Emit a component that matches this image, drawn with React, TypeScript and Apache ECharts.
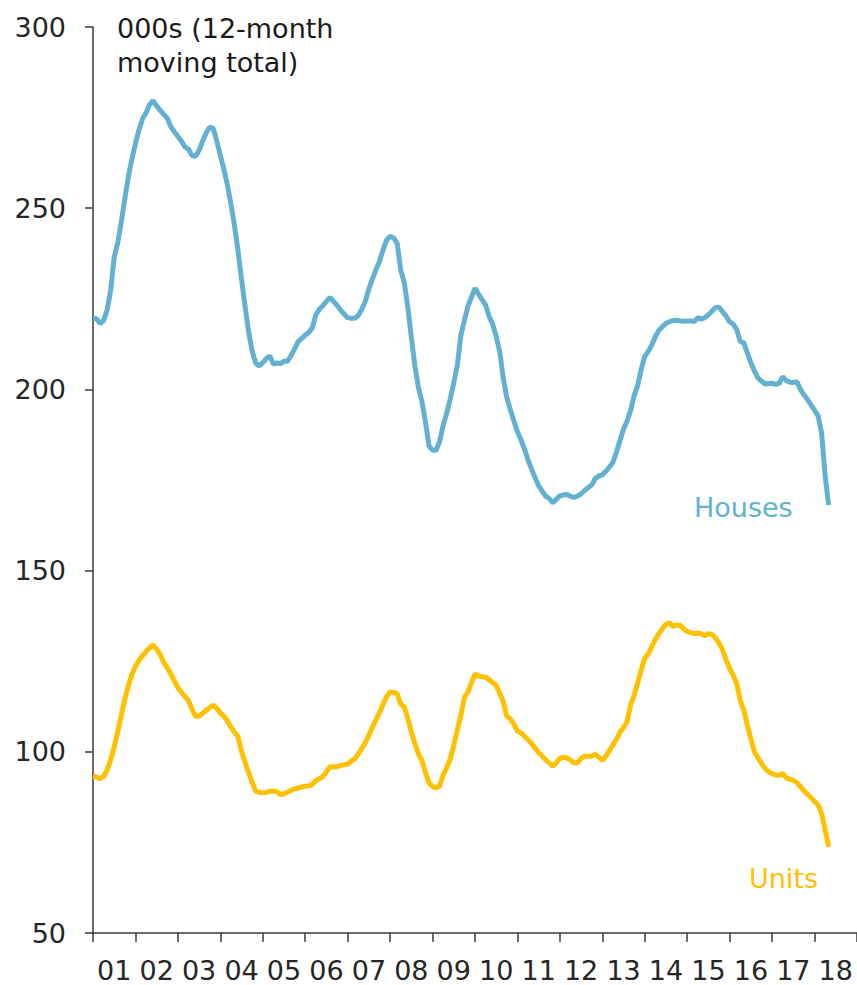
import React, { useEffect, useRef } from "react";
import * as echarts from "echarts";

const yearLabels = ["01","02","03","04","05","06","07","08","09","10","11","12","13","14","15","16","17","18"];

// Monthly 12-month moving totals (000s), starting Jan 2001
const houses = [
  219.6,219.5,218.2,219.0,221.9,227.4,236.5,240.5,246.2,252.6,258.7,263.6,
  267.8,271.6,274.7,276.3,278.6,279.7,278.2,277.0,275.9,274.8,272.5,271.1,
  269.8,268.5,266.9,266.3,264.5,264.3,266.0,268.5,270.8,272.4,272.0,268.5,
  264.6,260.7,256.4,251.1,245.2,238.2,230.4,222.9,215.9,210.6,207.2,206.5,
  207.4,208.5,209.2,207.0,207.3,207.1,207.8,207.8,209.3,211.2,213.2,214.1,
  215.0,215.7,217.0,220.6,222.1,223.1,224.3,225.4,224.3,223.2,221.9,220.8,
  219.8,219.6,219.6,220.4,222.1,224.3,227.7,230.5,233.0,235.3,238.5,241.2,
  242.3,241.8,240.3,232.9,229.5,222.7,214.4,206.5,200.6,196.6,191.0,184.4,
  183.2,183.2,185.7,190.1,193.4,197.4,201.8,206.7,214.9,219.0,222.9,225.5,
  227.9,226.3,224.8,223.3,220.1,218.0,214.6,210.4,203.0,197.7,194.4,191.3,
  188.3,186.1,183.5,180.5,178.0,175.6,173.4,171.9,170.5,169.9,168.7,169.7,
  170.6,170.9,171.0,170.5,170.2,170.6,171.2,172.1,172.9,173.6,175.4,176.1,
  176.4,177.4,178.6,179.9,182.7,185.9,189.1,191.3,194.2,198.3,201.1,205.5,
  209.1,210.5,212.3,214.6,216.3,217.3,218.2,218.7,219.0,219.1,218.9,218.8,
  218.9,218.9,218.7,219.8,219.4,219.8,220.6,221.6,222.6,222.7,221.4,220.2,
  218.6,218.0,216.5,213.1,212.9,210.0,207.4,205.1,203.1,202.3,201.5,201.6,
  201.7,201.4,201.7,203.5,202.4,202.0,201.9,202.1,200.0,198.5,197.2,195.7,
  194.2,192.7,187.9,176.0,168.1
];

const units = [
  93.3,93.0,92.6,93.2,95.0,97.8,101.4,105.6,110.1,114.5,118.2,121.3,
  123.6,125.2,126.5,127.6,128.7,129.5,128.3,126.8,124.7,123.2,121.5,119.6,
  117.7,116.4,115.3,114.1,111.8,109.8,109.8,110.6,111.4,112.2,112.9,112.0,
  110.7,109.8,108.5,106.8,105.4,104.2,100.1,97.1,94.2,91.6,89.2,88.8,
  88.7,88.8,89.2,89.1,89.0,88.2,88.4,88.9,89.3,89.8,90.0,90.3,
  90.5,90.6,91.0,92.1,92.5,93.2,94.4,95.9,95.9,95.9,96.2,96.4,
  96.6,97.4,98.1,99.4,100.9,102.6,104.6,106.8,108.8,110.8,113.1,115.2,
  116.5,116.4,116.0,113.2,112.4,109.2,105.5,102.3,99.4,97.6,94.3,91.4,
  90.4,90.0,90.6,93.6,95.6,98.0,101.8,106.0,110.0,115.0,116.5,119.0,
  121.5,120.9,120.7,120.6,119.9,119.1,118.3,116.1,113.8,109.8,109.1,107.6,
  105.7,105.2,104.3,103.3,102.3,101.0,99.8,98.8,97.8,96.9,96.0,97.0,
  98.2,98.5,98.3,97.7,96.9,97.0,98.2,98.8,98.8,98.8,99.3,98.5,
  97.6,98.8,100.3,101.9,103.4,105.4,106.7,108.3,112.9,115.6,119.0,122.6,
  125.8,127.0,129.0,131.0,132.6,134.0,135.2,135.6,134.6,135.0,134.9,134.0,
  133.2,132.9,132.6,132.8,132.6,132.0,132.6,132.4,131.4,130.0,128.1,125.3,
  123.0,121.1,118.8,114.2,111.5,107.4,103.5,100.0,98.3,96.8,95.4,94.5,
  94.0,93.6,93.5,94.0,92.8,92.4,92.1,91.5,90.4,89.2,88.3,87.3,
  86.3,85.3,83.0,78.5,73.8
];

const HOUSES_COLOR = "#62B1D0";
const UNITS_COLOR = "#FFC000";
const FONT = "DejaVu Sans";

export default function App() {
  const ref = useRef<HTMLDivElement>(null);
  useEffect(() => {
    if (!ref.current) return;
    const chart = echarts.init(ref.current, undefined, { renderer: "svg" });
    const monthsTotal = yearLabels.length * 12;
    chart.setOption({
      animation: false,
      grid: { left: 93, right: 0, top: 27, bottom: 52, containLabel: false },
      xAxis: [
        {
          type: "category",
          data: yearLabels,
          boundaryGap: true,
          axisLine: { show: true, lineStyle: { color: "#3a3a3a", width: 1.5 } },
          axisTick: { show: true, length: 9, alignWithLabel: false, lineStyle: { color: "#3a3a3a", width: 1.5 } },
          axisLabel: { fontSize: 27, fontFamily: FONT, color: "#262626", margin: 24, interval: 0 },
          splitLine: { show: false },
        },
        {
          type: "value",
          min: 0,
          max: monthsTotal,
          show: false,
        },
      ],
      yAxis: {
        type: "value",
        min: 50,
        max: 300,
        interval: 50,
        axisLine: { show: true, lineStyle: { color: "#3a3a3a", width: 1.5 } },
        axisTick: { show: true, length: 8, lineStyle: { color: "#3a3a3a", width: 1.5 } },
        axisLabel: { fontSize: 27, fontFamily: FONT, color: "#262626", margin: 27 },
        splitLine: { show: false },
      },
      series: [
        {
          name: "Houses",
          type: "line",
          xAxisIndex: 1,
          data: houses.map((v, i) => [i, v]),
          showSymbol: false,
          lineStyle: { color: HOUSES_COLOR, width: 5 },
          itemStyle: { color: HOUSES_COLOR },
        },
        {
          name: "Units",
          type: "line",
          xAxisIndex: 1,
          data: units.map((v, i) => [i, v]),
          showSymbol: false,
          lineStyle: { color: UNITS_COLOR, width: 5 },
          itemStyle: { color: UNITS_COLOR },
        },
      ],
      graphic: [
        {
          type: "text",
          left: 117,
          top: 11,
          style: {
            text: "000s (12-month\nmoving total)",
            fontSize: 27,
            fontFamily: FONT,
            lineHeight: 34,
            fill: "#1a1a1a",
          },
        },
        {
          type: "text",
          left: 694,
          top: 494,
          style: { text: "Houses", fontSize: 27, fontFamily: FONT, fill: HOUSES_COLOR },
        },
        {
          type: "text",
          left: 749,
          top: 865,
          style: { text: "Units", fontSize: 27, fontFamily: FONT, fill: UNITS_COLOR },
        },
      ],
    });
    return () => chart.dispose();
  }, []);
  return (
    <div
      ref={ref}
      style={{ position: "absolute", left: 0, top: 0, width: 857, height: 985 }}
    />
  );
}
